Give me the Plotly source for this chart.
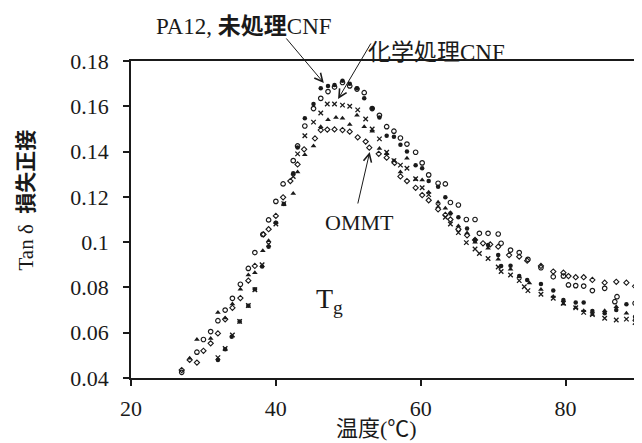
import plotly.graph_objects as go

# ---- data (temperature °C, tan δ) ----
pa12_T = [32.0, 33.0, 33.9, 35.0, 36.2, 37.1, 38.1, 39.0, 40.0, 41.1, 42.4, 43.0, 44.0, 45.2, 46.2,
          47.2, 48.1, 49.2, 50.2, 51.2, 52.2, 53.3, 54.3, 55.3, 56.3, 57.2, 58.1, 59.3, 60.2, 61.1,
          62.4, 63.4, 64.1, 65.2, 66.4, 67.5, 69.3, 70.7, 71.1, 72.4, 73.6, 74.7, 76.6, 78.3, 79.7,
          81.4, 82.5, 83.7, 85.4, 87.0, 88.4, 89.6]
pa12_v = [0.048, 0.0527, 0.0582, 0.0649, 0.0719, 0.0792, 0.0892, 0.098, 0.1086, 0.1169, 0.1304, 0.1418,
          0.1547, 0.161, 0.168, 0.169, 0.1694, 0.1713, 0.170, 0.168, 0.1635, 0.159, 0.155, 0.147, 0.1466,
          0.143, 0.140, 0.134, 0.1326, 0.127, 0.1245, 0.1198, 0.1127, 0.111, 0.106, 0.101, 0.0987, 0.0943,
          0.0895, 0.0896, 0.085, 0.0833, 0.0815, 0.0786, 0.0744, 0.0733, 0.0733, 0.0696, 0.0686, 0.070,
          0.0726, 0.067]

raw_T = [27.0, 29.1, 30.0, 31.0, 32.0, 33.0, 34.0, 35.1, 36.2, 37.1, 38.2, 39.0, 40.0, 41.0, 42.4,
         43.0, 44.0, 45.2, 46.2, 47.2, 48.1, 49.2, 50.2, 51.2, 52.2, 53.3, 54.3, 55.3, 56.3, 57.2,
         58.1, 59.3, 60.2, 61.1, 62.4, 63.4, 64.1, 65.2, 66.3, 67.5, 68.1, 69.3, 70.7, 71.1, 72.4,
         73.6, 74.8, 76.6, 78.3, 79.7, 80.4, 81.4, 82.5, 83.7, 85.4, 86.8, 87.1, 89.6]
raw_v = [0.0425, 0.0514, 0.057, 0.0605, 0.0653, 0.070, 0.0752, 0.0814, 0.0884, 0.0954, 0.1034, 0.1098,
         0.118, 0.1257, 0.136, 0.1425, 0.1513, 0.159, 0.1635, 0.1665, 0.1685, 0.1705, 0.169, 0.1676,
         0.166, 0.159, 0.156, 0.151, 0.149, 0.146, 0.1433, 0.1397, 0.135, 0.1297, 0.126, 0.1257, 0.1175,
         0.1164, 0.110, 0.110, 0.1039, 0.1039, 0.1036, 0.0995, 0.0965, 0.0954, 0.0924, 0.0887, 0.0847,
         0.085, 0.0811, 0.0808, 0.0806, 0.0786, 0.0796, 0.0737, 0.0759, 0.073]

chem_T = [32.0, 33.0, 34.0, 35.0, 36.2, 37.1, 38.1, 39.0, 40.0, 41.1, 42.4, 43.0, 44.0, 45.2, 46.2,
          47.1, 48.1, 49.2, 50.2, 51.3, 52.4, 53.3, 54.3, 55.3, 56.3, 57.2, 58.1, 59.3, 60.2, 61.1,
          62.4, 63.4, 64.1, 65.2, 66.3, 67.5, 68.1, 69.3, 70.7, 71.1, 72.4, 73.6, 74.3, 74.8, 76.6,
          78.3, 79.7, 81.4, 82.5, 83.7, 85.4, 87.0, 88.4, 89.6]
chem_v = [0.049, 0.053, 0.059, 0.065, 0.072, 0.079, 0.090, 0.099, 0.108, 0.117, 0.129, 0.139, 0.147,
          0.153, 0.157, 0.161, 0.161, 0.1605, 0.160, 0.1584, 0.1544, 0.150, 0.1456, 0.1397, 0.136, 0.134,
          0.1326, 0.128, 0.124, 0.121, 0.116, 0.111, 0.108, 0.1042, 0.0998, 0.097, 0.095, 0.0928, 0.089,
          0.087, 0.0855, 0.083, 0.0803, 0.0786, 0.077, 0.0752, 0.073, 0.071, 0.069, 0.068, 0.0664, 0.0656,
          0.066, 0.0645]

tri_T = [28.1, 29.1, 31.0, 32.0, 33.0, 34.0, 35.1, 36.2, 37.1, 38.2, 39.0, 40.0, 41.1, 42.4, 43.0,
         44.0, 45.2, 46.2, 47.2, 48.3, 49.2, 50.2, 51.2, 52.2, 53.3, 54.3, 55.3, 56.3, 57.2, 58.1,
         59.3, 60.2, 61.1, 62.4, 63.4, 64.1, 65.2, 66.4, 67.5, 69.3, 70.7, 72.4, 73.6, 75.0, 76.6,
         78.3, 79.7, 81.4, 82.5, 83.7, 85.4, 87.0, 88.4, 89.6]
tri_v = [0.0487, 0.057, 0.0575, 0.0689, 0.0665, 0.0727, 0.0792, 0.0855, 0.0865, 0.0962, 0.1006, 0.1086,
         0.1169, 0.1215, 0.131, 0.1386, 0.1425, 0.151, 0.154, 0.155, 0.1547, 0.152, 0.156, 0.151, 0.149,
         0.1414, 0.139, 0.136, 0.131, 0.137, 0.1277, 0.1275, 0.122, 0.1176, 0.115, 0.113, 0.1071, 0.104,
         0.100, 0.0973, 0.0924, 0.088, 0.0847, 0.082, 0.0791, 0.076, 0.0727, 0.071, 0.0697, 0.068,
         0.0697, 0.0715, 0.0686, 0.066]

ommt_T = [27.0, 28.1, 29.1, 30.0, 31.0, 32.0, 33.0, 34.0, 35.1, 36.2, 37.1, 38.3, 39.0, 40.0, 41.0,
          42.0, 43.0, 43.9, 45.4, 46.2, 47.1, 48.1, 49.2, 50.2, 51.3, 52.4, 52.9, 54.2, 55.3, 56.4,
          57.2, 58.1, 59.3, 60.2, 61.1, 62.4, 63.4, 64.1, 65.2, 66.4, 67.5, 68.6, 69.6, 70.7, 72.2,
          73.6, 74.7, 76.6, 78.3, 79.7, 80.4, 81.4, 82.5, 83.7, 85.4, 87.0, 88.4, 89.6]
ommt_v = [0.0435, 0.048, 0.0468, 0.052, 0.0553, 0.0597, 0.0659, 0.071, 0.0753, 0.083, 0.0895, 0.1034,
          0.1057, 0.1116, 0.1198, 0.127, 0.1343, 0.141, 0.1458, 0.1495, 0.1497, 0.1498, 0.1495, 0.1488,
          0.1463, 0.1444, 0.1417, 0.139, 0.1373, 0.135, 0.129, 0.127, 0.124, 0.1208, 0.1185, 0.1145,
          0.112, 0.110, 0.1057, 0.103, 0.101, 0.0995, 0.099, 0.098, 0.0943, 0.0936, 0.0918, 0.0895, 0.087,
          0.0865, 0.085, 0.0845, 0.0845, 0.0833, 0.0821, 0.0825, 0.0821, 0.0805]

y_ticks = [0.04, 0.06, 0.08, 0.1, 0.12, 0.14, 0.16, 0.18]
y_labels = ["0.04", "0.06", "0.08", "0.1", "0.12", "0.14", "0.16", "0.18"]
x_ticks = [20, 40, 60, 80]

SERIF = "Liberation Serif, Noto Sans CJK JP"
CJK = "Noto Sans CJK JP"
INK = "#1a1a1a"

fig = go.Figure()
series = [
    (pa12_T, pa12_v, "circle", 4.5, 0),
    (raw_T, raw_v, "circle-open", 4.5, 1.2),
    (chem_T, chem_v, "x-thin-open", 4.5, 1.3),
    (tri_T, tri_v, "triangle-up", 5, 0),
    (ommt_T, ommt_v, "diamond-open", 4, 1.1),
]
for T, v, sym, sz, lw in series:
    fig.add_trace(go.Scatter(
        x=T, y=v, mode="markers", showlegend=False, cliponaxis=False,
        marker=dict(symbol=sym, size=sz, color=INK, line=dict(color=INK, width=lw)),
    ))

def cjk(s, bold=False):
    w = "bold" if bold else "normal"
    return f'<span style="font-family:{CJK};font-weight:{w}">{s}</span>'

annos = [
    dict(text="PA12, " + cjk("未処理", True) + "CNF", x=0.222, y=1.118, size=23),
    dict(text=cjk("化学処理") + "CNF", x=0.603, y=1.035, size=23),
    dict(text="OMMT", x=0.451, y=0.492, size=22),
    dict(text="T<sub>g</sub>", x=0.392, y=0.245, size=28),
    dict(text=cjk("温度") + "(℃)", x=0.485, y=-0.152, size=22),
]
for a in annos:
    fig.add_annotation(xref="paper", yref="paper", x=a["x"], y=a["y"], text=a["text"],
                       showarrow=False, xanchor="center", yanchor="middle",
                       font=dict(family=SERIF, size=a["size"], color=INK))

fig.add_annotation(xref="paper", yref="paper", x=-0.212, y=0.5615, textangle=-90,
                   text="Tan δ  " + cjk("損失正接", True), showarrow=False,
                   xanchor="center", yanchor="middle",
                   font=dict(family=SERIF, size=21, color=INK))

arrows = [
    ((46.62, 0.1703), (41.27, 0.1906)),
    ((48.59, 0.1632), (53.24, 0.1884)),
    ((52.96, 0.1398), (51.27, 0.1164)),
]
for (hx, hy), (tx, ty) in arrows:
    fig.add_annotation(x=hx, y=hy, ax=tx, ay=ty, xref="x", yref="y", axref="x", ayref="y",
                       text="", showarrow=True, arrowhead=5, arrowsize=1.6, arrowwidth=1,
                       arrowcolor=INK)

fig.update_xaxes(range=[20, 90], tickvals=x_ticks, ticks="outside", ticklen=6, tickwidth=1.5,
                 tickcolor=INK, showline=True, linecolor=INK, linewidth=1.8, mirror=True,
                 showgrid=False, zeroline=False, ticklabelstandoff=4,
                 tickfont=dict(family=SERIF, size=22, color=INK))
fig.update_yaxes(range=[0.04, 0.18], tickvals=y_ticks, ticktext=y_labels, ticks="outside",
                 ticklen=6, tickwidth=1.5, tickcolor=INK, showline=True, linecolor=INK,
                 linewidth=1.8, mirror=True, showgrid=False, zeroline=False,
                 ticklabelstandoff=10, tickfont=dict(family=SERIF, size=22, color=INK))

# the page body adds an 8px offset, so the figure is 8px smaller and margins compensate
fig.update_layout(width=634, height=435, margin=dict(l=123, r=2, t=53, b=65),
                  paper_bgcolor="white", plot_bgcolor="white")
fig.write_html("out.html")
